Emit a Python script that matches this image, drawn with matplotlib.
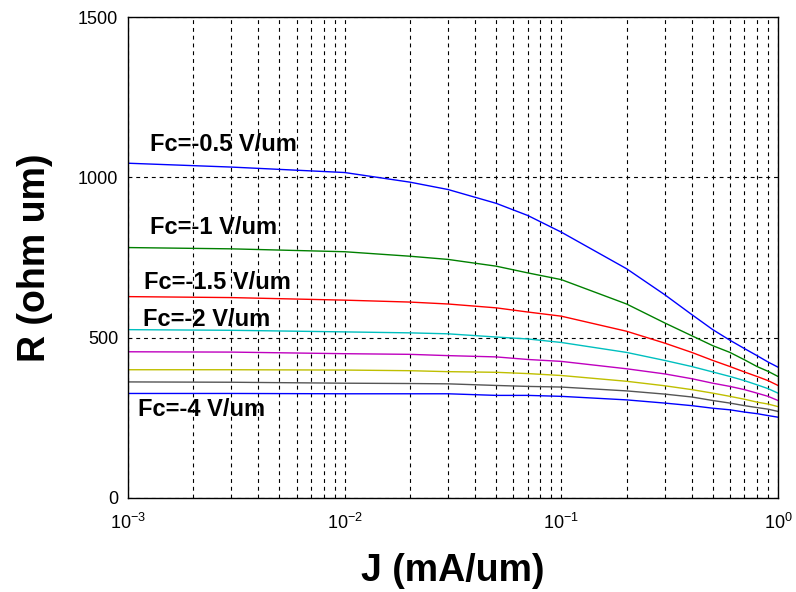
import numpy as np
import matplotlib
matplotlib.use("Agg")
import matplotlib.pyplot as plt
from matplotlib.ticker import LogLocator, FixedLocator, NullFormatter

# ---- data ----
J = [0.001, 0.003, 0.01, 0.02, 0.03, 0.05, 0.07, 0.1, 0.2, 0.3, 0.4, 0.5, 0.6, 0.7, 0.8, 0.9, 1.0]

R_fc05 = [1044, 1032, 1015, 985, 962, 919, 881, 829, 715, 634, 572, 525, 492, 466, 444, 424, 408]
R_fc10 = [781, 777, 768, 754, 744, 723, 702, 681, 605, 546, 506, 475, 454, 431, 410, 395, 379]
R_fc15 = [628, 625, 617, 611, 605, 593, 580, 567, 520, 483, 454, 429, 410, 393, 379, 366, 351]
R_fc20 = [525, 523, 518, 515, 512, 502, 496, 485, 454, 429, 410, 393, 379, 366, 353, 341, 327]
R_fc25 = [456, 455, 450, 448, 444, 440, 432, 426, 403, 387, 372, 358, 348, 338, 327, 317, 304]
R_fc30 = [400, 400, 399, 397, 394, 392, 388, 382, 364, 350, 338, 327, 317, 308, 299, 293, 285]
R_fc35 = [362, 361, 358, 357, 356, 351, 348, 346, 334, 324, 315, 304, 296, 288, 282, 277, 270]
R_fc40 = [326, 326, 325, 325, 325, 320, 320, 317, 306, 296, 288, 280, 275, 268, 263, 257, 252]

series = [R_fc05, R_fc10, R_fc15, R_fc20, R_fc25, R_fc30, R_fc35, R_fc40]
colors = ["#0000ff", "#008000", "#ff0000", "#00bfbf", "#bf00bf", "#bfbf00", "#555555", "#0000ff"]

labels = ["Fc=-0.5 V/um", "Fc=-1 V/um", "Fc=-1.5 V/um", "Fc=-2 V/um", "Fc=-4 V/um"]
label_x = [1.26e-3, 1.26e-3, 1.186e-3, 1.17e-3, 1.11e-3]
label_y = [1103, 844, 672, 556, 275]

yticks = [0, 500, 1000, 1500]

# ---- figure ----
fig = plt.figure(figsize=(7.96, 5.92), dpi=100)
ax = fig.add_axes([128/796, 94/592, 650/796, 481/592])

for r, c in zip(series, colors):
    ax.plot(J, r, color=c, lw=1.0)

ax.set_xscale("log")
ax.set_xlim(1e-3, 1)
ax.set_ylim(0, 1500)
ax.yaxis.set_major_locator(FixedLocator(yticks))
ax.xaxis.set_major_locator(LogLocator(base=10, numticks=10))
ax.xaxis.set_minor_locator(LogLocator(base=10, subs=np.arange(2, 10), numticks=10))
ax.xaxis.set_minor_formatter(NullFormatter())

dash = (0, (3.5, 3.5))
ax.grid(True, which="major", axis="both", color="black", lw=0.8, linestyle=dash)
ax.grid(True, which="minor", axis="x", color="black", lw=0.8, linestyle=dash)

ax.tick_params(which="both", direction="in", top=False, right=False, length=0)
ax.tick_params(axis="y", labelsize=13, pad=7)
ax.tick_params(axis="x", labelsize=13, pad=11)
for lab in ax.get_xticklabels() + ax.get_yticklabels():
    lab.set_family("Liberation Sans")
for s in ax.spines.values():
    s.set_linewidth(1.0)
    s.set_color("black")

for t, x, y in zip(labels, label_x, label_y):
    ax.text(x, y, t, fontsize=17, fontweight="bold", family="Liberation Sans",
            ha="left", va="center")

ax.set_xlabel("J (mA/um)", fontsize=27, fontweight="bold", family="Liberation Sans", labelpad=14)
ax.set_ylabel("R (ohm um)", fontsize=27, fontweight="bold", family="Liberation Sans", labelpad=18)

fig.savefig("out.png", dpi=100)
